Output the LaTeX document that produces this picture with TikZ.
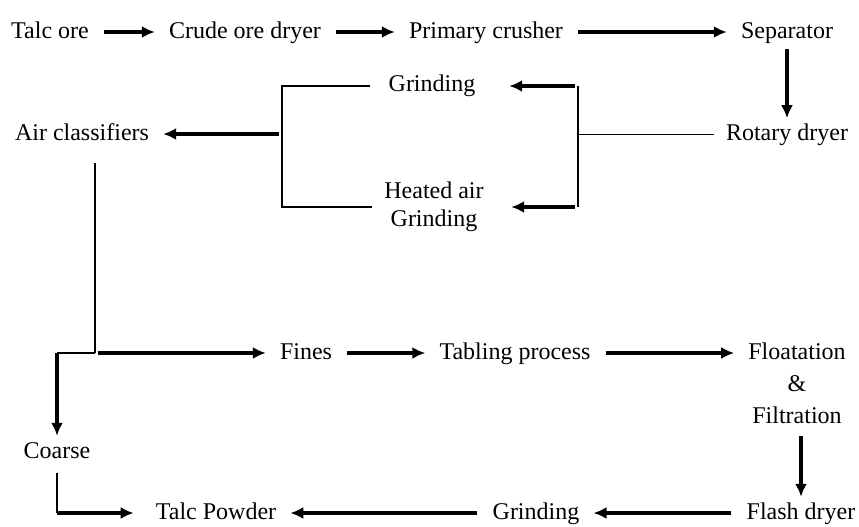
\documentclass[tikz,border=0pt]{standalone}
\usepackage{fontspec}
\setmainfont{Liberation Serif}
\usepackage{tikz}
\usetikzlibrary{arrows.meta,positioning}
\tikzstyle{stage} = [draw=none, text=black, inner xsep=12pt, inner ysep=2pt, font=\fontsize{24}{28}\selectfont, text height=18pt, text depth=6pt]
\tikzstyle{stack} = [draw=none, text=black, inner xsep=12pt, inner ysep=2pt, align=center, font=\fontsize{24}{28}\selectfont]
\tikzstyle{mill} = [minimum width=124pt]
\tikzstyle{flow} = [draw, line width=3.6pt, -{Latex[length=13pt,width=12pt]}, shorten <=3pt, shorten >=2pt]
\tikzstyle{link} = [draw, line width=1.8pt]

\begin{document}
\begin{tikzpicture}[x=1pt, y=-1pt]
\useasboundingbox (0,0) rectangle (859,527);

% Ore line =============================
\node[stage] (talc) at (50,32) {Talc ore};
\node[stage] (crude) at (245,32) {Crude ore dryer};
\node[stage] (primary) at (486,32) {Primary crusher};
\node[stage] (sep) at (787,32) {Separator};
\node[stage, below=74pt of sep] (rotary) {Rotary dryer};

% Grinding =============================
\node[stage, mill] (grind) at (432,86) {Grinding};
\node[stack, mill] (heated) at (434,207) {Heated air\\Grinding};
\node[stage] (air) at (82,134) {Air classifiers};
\coordinate (split) at (578,134);
\coordinate (merge) at (282,134);

% Fines and coarse =============================
\node[stage] (fines) at (306,353) {Fines};
\node[stage] (tabling) at (515,353) {Tabling process};
\node[stack, font=\fontsize{24}{32}\selectfont] (float) at (797,383) {Floatation\\\&\\Filtration};
\node[stage] (flash) at (801,513) {Flash dryer};
\node[stage] (grind2) at (536,513) {Grinding};
\node[stage] (powder) at (216,513) {Talc Powder};
\node[stage] (coarse) at (57,452) {Coarse};
\coordinate (tee) at (95,353);

% edges
\path[flow] (talc) -- (crude);
\path[flow] (crude) -- (primary);
\path[flow] (primary) -- (sep);
\path[flow] (sep) -- (rotary);
\path[link] (rotary.west) -- (rotary.west -| split);
\path[link, line width=2.4pt] (split |- grind) -- (split |- heated);
\path[flow, shorten >=15pt] (split |- grind) -- (grind);
\path[flow, shorten >=15pt] (split |- heated) -- (heated);
\path[link] (grind) -| (merge) |- (heated);
\path[flow] (merge) -- (air);

\path[link, shorten <=15pt] (air.south -| tee) -- (tee);
\path[flow] (tee) -- (fines);
\path[link] (tee) -- (tee -| coarse);
\path[flow, shorten <=0pt] (tee -| coarse) -- (coarse);
\path[link, shorten <=7pt] (coarse) -- (coarse |- powder);
\path[flow, shorten <=0pt, shorten >=10pt] (coarse |- powder) -- (powder);

\path[flow] (fines) -- (tabling);
\path[flow] (tabling) -- (tabling -| float.west);
\path[flow, shorten <=10pt] (float.south -| flash) -- (flash);
\path[flow] (flash) -- (grind2);
\path[flow] (grind2) -- (powder);

\end{tikzpicture}
\end{document}
